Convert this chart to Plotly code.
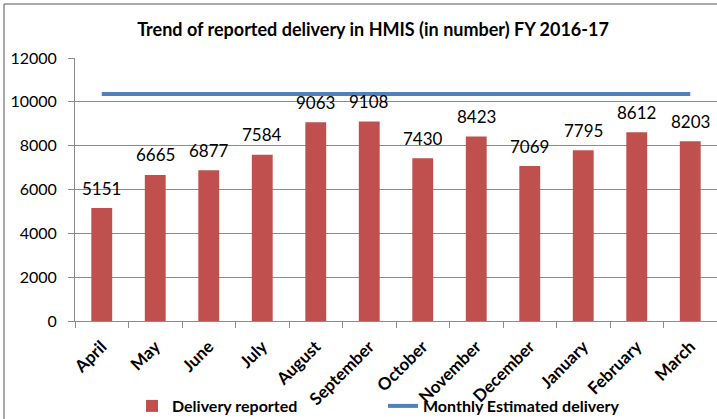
import plotly.graph_objects as go

months = ["April", "May", "June", "July", "August", "September", "October",
          "November", "December", "January", "February", "March"]
delivery_reported = [5151, 6665, 6877, 7584, 9063, 9108, 7430, 8423, 7069, 7795, 8612, 8203]
monthly_estimated = [10360] * 12
y_ticks = [0, 2000, 4000, 6000, 8000, 10000, 12000]

FONT = "Lato"
L, R, T, B = 75, 0, 58, 98
W, H = 717, 419
pw = W - L - R
ph = H - T - B
GRAY = "#8c8c8c"

fig = go.Figure()
fig.add_trace(go.Bar(
    x=months, y=delivery_reported, name="Delivery reported",
    marker=dict(color="#C0504D", line=dict(width=0)),
))
fig.add_trace(go.Scatter(
    x=months, y=monthly_estimated, name="Monthly Estimated delivery",
    mode="lines", line=dict(color="#4F81BD", width=4),
))
for m, v in zip(months, delivery_reported):
    fig.add_annotation(x=m, y=v, text=str(v), showarrow=False,
                       yanchor="middle", yshift=20,
                       font=dict(family=FONT, size=17, color="#000000"))

fig.update_layout(
    width=W, height=H,
    margin=dict(l=L, r=R, t=T, b=B, autoexpand=False),
    paper_bgcolor="white", plot_bgcolor="white",
    bargap=0.61,
    showlegend=True,
    title=dict(text="<b>Trend of reported delivery in HMIS (in number) FY 2016-17</b>",
               x=373 / W, xanchor="center", y=1 - 30 / H, yanchor="middle",
               font=dict(family=FONT, size=18, color="#000000")),
    legend=dict(orientation="h", x=(132 - L) / pw, xanchor="left",
                y=(H - B - 406) / ph, yanchor="middle",
                font=dict(family=FONT, size=16, color="#000000", weight="bold"),
                bgcolor="rgba(0,0,0,0)", itemwidth=30, tracegroupgap=0,
                entrywidth=206),
    font=dict(family=FONT, color="#000000"),
)
fig.update_xaxes(
    type="category", tickson="boundaries", ticks="outside", ticklen=6,
    tickcolor=GRAY, showline=True, linecolor=GRAY, linewidth=1,
    tickangle=-45, ticklabelstandoff=8,
    tickfont=dict(family=FONT, size=17, color="#000000", weight="bold"),
    showgrid=False, automargin=False,
)
fig.update_yaxes(
    range=[0, 12000], tickvals=y_ticks, ticktext=[str(t) for t in y_ticks],
    ticks="outside", ticklen=6, tickcolor=GRAY, ticklabelstandoff=8,
    showline=True, linecolor=GRAY, linewidth=1,
    showgrid=True, gridcolor=GRAY, gridwidth=1,
    zeroline=False, automargin=False,
    tickfont=dict(family=FONT, size=16, color="#000000"),
)
# outer chart frame (left and top edges visible)
fig.add_shape(type="line", xref="paper", yref="paper",
              x0=(4 - L) / pw, x1=(4 - L) / pw, y0=(H - B - 425) / ph, y1=(H - B - 4) / ph,
              line=dict(color=GRAY, width=1.5))
fig.add_shape(type="line", xref="paper", yref="paper",
              x0=(4 - L) / pw, x1=(720 - L) / pw, y0=(H - B - 4) / ph, y1=(H - B - 4) / ph,
              line=dict(color=GRAY, width=1.5))

fig.write_html(
    "out.html",
    config={"displayModeBar": False},
    post_script="document.body.style.margin='0';document.body.style.overflow='hidden';",
)
